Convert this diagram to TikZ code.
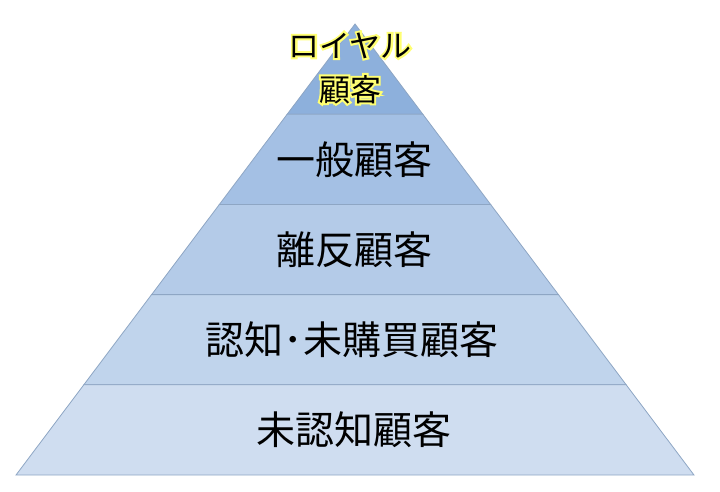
\documentclass[tikz,border=0pt]{standalone}
\usepackage{fontspec}
\newfontfamily\jp{Noto Sans CJK JP}
\definecolor{edge}{HTML}{8EA6C4}
\definecolor{c1}{HTML}{8DB0DC}
\definecolor{c2}{HTML}{A4C0E4}
\definecolor{c3}{HTML}{B4CBE8}
\definecolor{c4}{HTML}{C0D4EC}
\definecolor{c5}{HTML}{CFDDF0}
\tikzset{band/.style={draw=edge,line width=0.8pt},
 lbl/.style={font=\jp\fontsize{39}{42}\selectfont,text=black},
 toplbl/.style={font=\jp\fontsize{31}{44}\selectfont,align=center,text=black}}
\newcommand\glowtext[1]{\rlap{\special{pdf:literal 1 Tr 4 w 1 1 0.45 RG}#1\special{pdf:literal 0 Tr}}#1}
\begin{document}
\begin{tikzpicture}[x=1pt,y=-1pt]
\useasboundingbox (0,0) rectangle (720,491);
\def\ax{355}\def\ay{24}\def\by{475}\def\bl{16}\def\br{694}
\foreach \i/\col in {0/c1,1/c2,2/c3,3/c4,4/c5}{
  \pgfmathsetmacro\ya{\ay+\i*90.2}
  \pgfmathsetmacro\yb{\ay+(\i+1)*90.2}
  \pgfmathsetmacro\la{\ax-(\ya-\ay)/451*(\ax-\bl)}
  \pgfmathsetmacro\ra{\ax+(\ya-\ay)/451*(\br-\ax)}
  \pgfmathsetmacro\lb{\ax-(\yb-\ay)/451*(\ax-\bl)}
  \pgfmathsetmacro\rb{\ax+(\yb-\ay)/451*(\br-\ax)}
  \fill[\col] (\la,\ya) -- (\ra,\ya) -- (\rb,\yb) -- (\lb,\yb) -- cycle;
  \draw[band] (\la,\ya) -- (\ra,\ya) -- (\rb,\yb) -- (\lb,\yb) -- cycle;
}
\node[lbl] (b2) at (354,160) {一般顧客};
\node[lbl] (b3) at (354,250) {離反顧客};
\node[lbl] (b4) at (352,340) {認知･未購買顧客};
\node[lbl] (b5) at (354,430) {未認知顧客};
\node[toplbl] (b1) at (350,68) {\glowtext{ロイヤル}\\\glowtext{顧客}};
\end{tikzpicture}
\end{document}
